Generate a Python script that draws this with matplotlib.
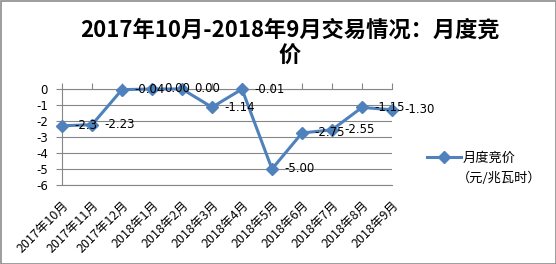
import matplotlib.pyplot as plt
from matplotlib.patches import Rectangle

plt.rcParams['font.family'] = ['Noto Sans CJK SC', 'DejaVu Sans']

months = ['2017年10月', '2017年11月', '2017年12月', '2018年1月', '2018年2月', '2018年3月',
          '2018年4月', '2018年5月', '2018年6月', '2018年7月', '2018年8月', '2018年9月']
prices = [-2.3, -2.23, -0.04, 0.00, 0.00, -1.14, -0.01, -5.00, -2.75, -2.55, -1.15, -1.30]
labels = ['-2.3', '-2.23', '-0.04', '0.00', '0.00', '-1.14', '-0.01', '-5.00', '-2.75', '-2.55', '-1.15', '-1.30']

W, H = 556, 264
fig = plt.figure(figsize=(W / 100, H / 100), dpi=100)

# plot area in pixel terms
left, right, top, bottom = 62, 392, 89, 185
ax = fig.add_axes([left / W, 1 - bottom / H, (right - left) / W, (bottom - top) / H])

blue = '#4F81BD'
grid = '#868686'
x = list(range(len(months)))
ax.plot(x, prices, color=blue, lw=2.2, marker='D', ms=6, label='月度竞价', zorder=3, clip_on=False)

for xi, yi, lab in zip(x, prices, labels):
    ax.annotate(lab, (xi, yi), xytext=(9, 0), textcoords='offset points',
                ha='left', va='center', fontsize=8.5, family=['DejaVu Sans'], zorder=4)

ax.set_xlim(0, 11)
ax.set_ylim(-6, 0)
ax.set_yticks(range(-6, 1))
ax.set_yticklabels([str(v) for v in range(-6, 1)], fontsize=8.5, family=['DejaVu Sans'])
ax.yaxis.grid(True, color=grid, lw=0.8)
ax.set_axisbelow(True)

# category axis crosses at 0 (top), labels low
ax.xaxis.set_ticks_position('top')
ax.set_xticks(x)
ax.tick_params(axis='x', direction='out', length=4, color=grid, labeltop=False, labelbottom=True)
ax.set_xticklabels(months, rotation=45, ha='right', rotation_mode='anchor', fontsize=9)
ax.tick_params(axis='x', which='major', pad=6)
ax.tick_params(axis='y', length=4, color=grid, pad=6)

for s in ['right']:
    ax.spines[s].set_visible(False)
for s in ['left', 'top', 'bottom']:
    ax.spines[s].set_color(grid)
    ax.spines[s].set_linewidth(0.8)

fig.text(290 / W, 1 - 30 / H, '2017年10月-2018年9月交易情况：月度竞', ha='center', va='center',
         fontsize=16, fontweight='bold')
fig.text(290 / W, 1 - 56 / H, '价', ha='center', va='center', fontsize=16, fontweight='bold')

ax.legend(loc='center left', bbox_to_anchor=(420 / W, 1 - 158 / H), bbox_transform=fig.transFigure,
          frameon=False, fontsize=9.5, handlelength=2.6, handletextpad=0.1, borderpad=0)
fig.text(457 / W, 1 - 178 / H, '（元/兆瓦时）', ha='left', va='center', fontsize=9.5)

fig.patches.append(Rectangle((0.5 / W, 0.5 / H), 1 - 1 / W, 1 - 1 / H, transform=fig.transFigure,
                             fill=False, edgecolor='#8c8c8c', lw=1.2))

fig.savefig('out.png', dpi=100)
